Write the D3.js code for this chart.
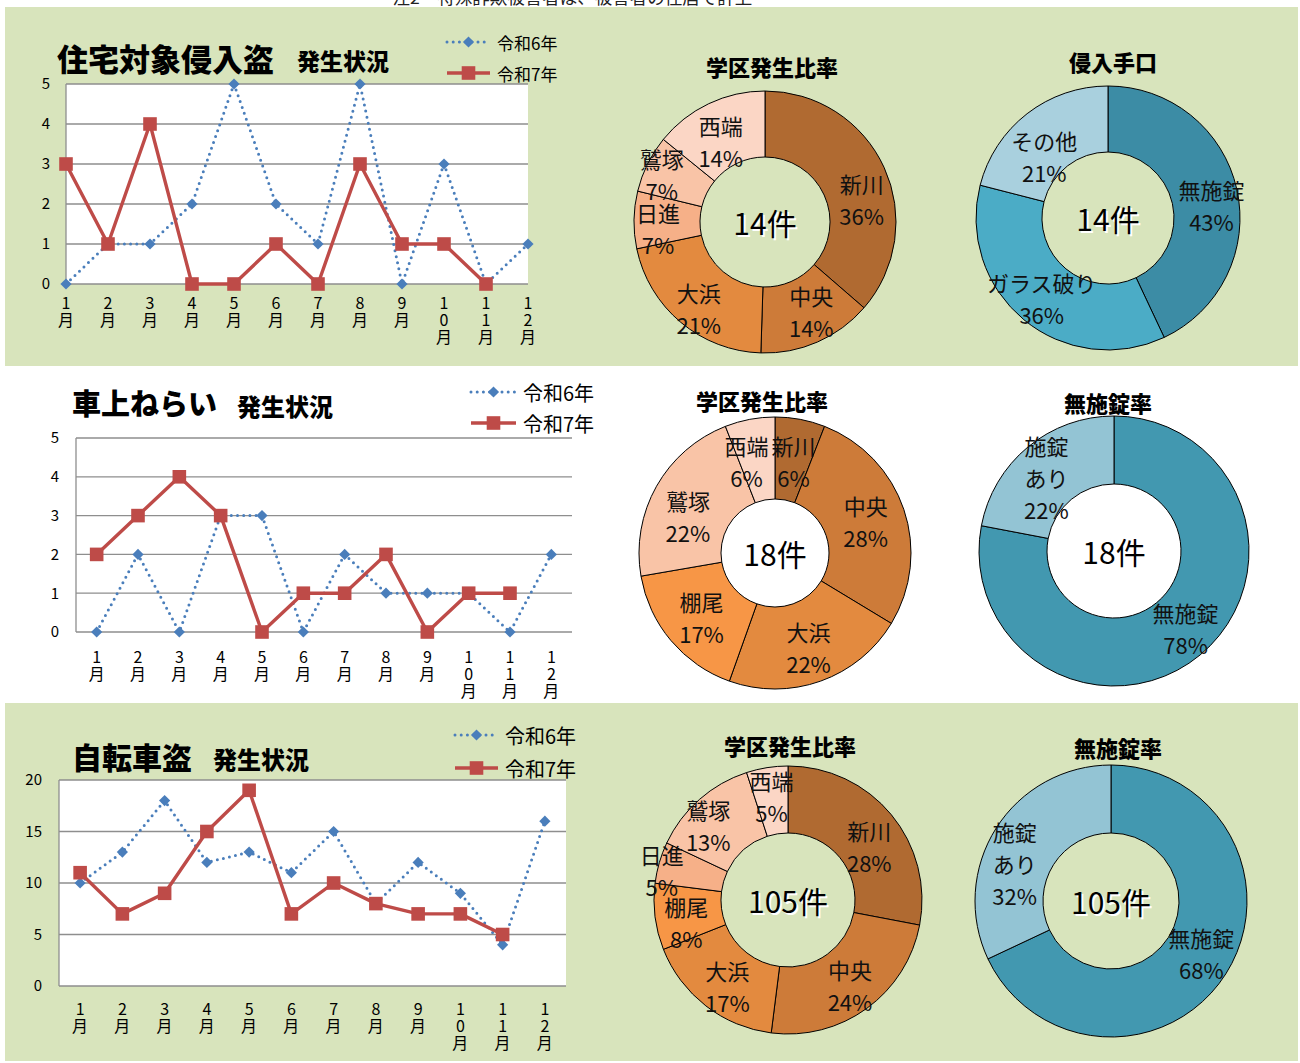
<!DOCTYPE html>
<html>
<head>
<meta charset="utf-8">
<script src="https://cdn.jsdelivr.net/npm/d3@7"></script>
<style>
    body { margin: 0; background: #ffffff; }
    text { font-family: "Noto Sans CJK JP", "Noto Sans", sans-serif; }
</style>
<script>
    // 月別件数
    var months = ["1月", "2月", "3月", "4月", "5月", "6月", "7月", "8月", "9月", "10月", "11月", "12月"];
    var seriesNames = ["令和6年", "令和7年"];

    var houseR6 = [0, 1, 1, 2, 5, 2, 1, 5, 0, 3, 0, 1];
    var houseR7 = [3, 1, 4, 0, 0, 1, 0, 3, 1, 1, 0];
    var carR6 = [0, 2, 0, 3, 3, 0, 2, 1, 1, 1, 0, 2];
    var carR7 = [2, 3, 4, 3, 0, 1, 1, 2, 0, 1, 1];
    var bikeR6 = [10, 13, 18, 12, 13, 11, 15, 8, 12, 9, 4, 16];
    var bikeR7 = [11, 7, 9, 15, 19, 7, 10, 8, 7, 7, 5];

    // 円グラフ (%)
    var houseAreaNames = ["新川", "中央", "大浜", "日進", "鷲塚", "西端"];
    var houseAreaPct = [36, 14, 21, 7, 7, 14];
    var houseWayNames = ["無施錠", "ガラス破り", "その他"];
    var houseWayPct = [43, 36, 21];
    var carAreaNames = ["新川", "中央", "大浜", "棚尾", "鷲塚", "西端"];
    var carAreaPct = [6, 28, 22, 17, 22, 6];
    var carLockNames = ["無施錠", "施錠\nあり"];
    var carLockPct = [78, 22];
    var bikeAreaNames = ["新川", "中央", "大浜", "棚尾", "日進", "鷲塚", "西端"];
    var bikeAreaPct = [28, 24, 17, 8, 5, 13, 5];
    var bikeLockNames = ["無施錠", "施錠\nあり"];
    var bikeLockPct = [68, 32];
    var totals = ["14件", "18件", "105件"];

    var noteText = "・注2　特殊詐欺被害者は、被害者の住居で計上";

    var areaColor = { "新川": "#b06a31", "中央": "#cd7b39", "大浜": "#e38a3f", "棚尾": "#f79646",
                      "日進": "#f6b088", "鷲塚": "#f9c4a7", "西端": "#fbd6c5" };

    const BLUE = "#4a7ebb", RED = "#be4b48", GRID = "#8e8e8e", GREEN = "#d8e4bc";

    function diamond(s) { return "M0," + (-s) + "L" + s + ",0L0," + s + "L" + (-s) + ",0Z"; }
    function square(s) { return "M" + (-s) + "," + (-s) + "h" + 2*s + "v" + 2*s + "h" + (-2*s) + "Z"; }

    function lineChart(svg, c) {
        var g = svg.append("g");
        var x, off;
        if (c.onTick) { x = d3.scalePoint().domain(months).range([c.left, c.right]); off = 0; }
        else { x = d3.scaleBand().domain(months).range([c.left, c.right]); off = x.bandwidth() / 2; }
        var y = d3.scaleLinear().domain([0, c.max]).range([c.bottom, c.top]);
        var ticks = d3.range(0, c.max + 1, c.step);

        g.append("rect")
         .attr("x", c.left).attr("y", c.top)
         .attr("width", c.right - c.left).attr("height", c.bottom - c.top)
         .attr("fill", "#ffffff");

        g.append("g").selectAll("line").data(ticks).enter()
         .append("line")
         .attr("x1", c.left).attr("x2", c.right)
         .attr("y1", d => y(d)).attr("y2", d => y(d))
         .attr("stroke", GRID).attr("stroke-width", 1.3);

        g.append("line")
         .attr("x1", c.left).attr("x2", c.left)
         .attr("y1", c.top).attr("y2", c.bottom)
         .attr("stroke", GRID).attr("stroke-width", 1.3);

        var ya = g.append("g")
         .attr("transform", "translate(" + c.left + ",0)")
         .call(d3.axisLeft(y).tickValues(ticks).tickFormat(d3.format("d")).tickSize(0).tickPadding(c.yPad));
        ya.select(".domain").remove();
        ya.selectAll("text").attr("font-size", 15).attr("fill", "#000")
          .style("font-family", "'Noto Sans CJK JP', sans-serif");

        // 縦書きの月ラベル
        g.append("g").selectAll("text").data(months).enter()
         .append("text")
         .attr("text-anchor", "middle")
         .attr("dominant-baseline", "central")
         .attr("font-size", 16)
         .each(function (d) {
             var t = d3.select(this);
             d.split("").forEach(function (ch, i) {
                 t.append("tspan").attr("x", x(d) + off).attr("y", c.labelY + i * 17).text(ch);
             });
         });

        var line = d3.line().x((d, i) => x(months[i]) + off).y(d => y(d));

        g.append("path")
         .attr("d", line(c.r6))
         .attr("fill", "none").attr("stroke", BLUE)
         .attr("stroke-width", 3).attr("stroke-dasharray", "0 6.2").attr("stroke-linecap", "round");
        g.append("g").selectAll("path").data(c.r6).enter()
         .append("path")
         .attr("d", diamond(5.6))
         .attr("transform", (d, i) => "translate(" + (x(months[i]) + off) + "," + y(d) + ")")
         .attr("fill", BLUE);

        g.append("path")
         .attr("d", line(c.r7))
         .attr("fill", "none").attr("stroke", RED).attr("stroke-width", 3.4)
         .attr("stroke-linejoin", "round");
        g.append("g").selectAll("path").data(c.r7).enter()
         .append("path")
         .attr("d", square(6.8))
         .attr("transform", (d, i) => "translate(" + (x(months[i]) + off) + "," + y(d) + ")")
         .attr("fill", RED);

        // タイトル
        g.append("text").attr("x", c.titleX).attr("y", c.titleY)
         .attr("dominant-baseline", "central")
         .attr("font-size", c.titleSize).attr("font-weight", 900).text(c.title);
        g.append("text").attr("x", c.subX).attr("y", c.subY)
         .attr("dominant-baseline", "central")
         .attr("font-size", c.subSize).attr("font-weight", 900).text("発生状況");

        // 凡例
        var lg = g.append("g");
        var mx = c.legX + c.legW / 2;
        lg.append("line")
          .attr("x1", c.legX).attr("x2", c.legX + c.legW)
          .attr("y1", c.legY[0]).attr("y2", c.legY[0])
          .attr("stroke", BLUE).attr("stroke-width", 3)
          .attr("stroke-dasharray", "0 6.2").attr("stroke-linecap", "round");
        lg.append("path").attr("d", diamond(5.6))
          .attr("transform", "translate(" + mx + "," + c.legY[0] + ")").attr("fill", BLUE);
        lg.append("line")
          .attr("x1", c.legX).attr("x2", c.legX + c.legW)
          .attr("y1", c.legY[1]).attr("y2", c.legY[1])
          .attr("stroke", RED).attr("stroke-width", 3.4);
        lg.append("path").attr("d", square(6.8))
          .attr("transform", "translate(" + mx + "," + c.legY[1] + ")").attr("fill", RED);
        lg.selectAll("text").data(seriesNames).enter()
          .append("text")
          .attr("x", c.legX + c.legW + 7).attr("y", (d, i) => c.legY[i])
          .attr("dominant-baseline", "central")
          .attr("font-size", c.legSize).text(d => d);
    }

    function donut(svg, c) {
        var data = c.names.map((n, i) => ({ name: n, v: c.values[i] }));
        var pie = d3.pie().sort(null).value(d => d.v);
        var arc = d3.arc().innerRadius(c.ri).outerRadius(c.r);
        var lr = (c.r + c.ri) / 2 + 5;

        var g = svg.append("g").attr("transform", "translate(" + c.cx + "," + c.cy + ")");

        if (c.hole) g.append("circle").attr("r", c.ri).attr("fill", c.hole);

        g.selectAll("path").data(pie(data)).enter()
         .append("path")
         .attr("d", arc)
         .attr("fill", (d, i) => c.colors ? c.colors[i] : areaColor[d.data.name])
         .attr("stroke", "#000").attr("stroke-width", 1);

        // ラベル (Excel風に少しずらす)
        g.append("g").selectAll("text").data(pie(data)).enter()
         .append("text")
         .attr("text-anchor", "middle")
         .attr("dominant-baseline", "central")
         .attr("font-size", 22).attr("fill", "#111")
         .each(function (d) {
             var push = (c.push && c.push[d.data.name]) || 0;
             var shift = (c.shift && c.shift[d.data.name]) || [0, 0];
             var p = d3.arc().innerRadius(lr + push).outerRadius(lr + push).centroid(d);
             var lines = d.data.name.split("\n").concat([d.data.v + "%"]);
             var t = d3.select(this);
             lines.forEach(function (s, i) {
                 t.append("tspan")
                  .attr("x", p[0] + shift[0])
                  .attr("y", p[1] + shift[1] + (i - (lines.length - 1) / 2) * 32)
                  .text(s);
             });
         });

        // 中央の件数 (白い影つき)
        [["#ffffff", 2], ["#000000", 0]].forEach(function (s) {
            g.append("text")
             .attr("x", s[1]).attr("y", s[1])
             .attr("text-anchor", "middle").attr("dominant-baseline", "central")
             .attr("font-size", 30).attr("fill", s[0]).text(c.total);
        });

        svg.append("text")
           .attr("x", c.titleX).attr("y", c.titleY)
           .attr("text-anchor", "middle").attr("dominant-baseline", "central")
           .attr("font-size", 22).attr("font-weight", 900).text(c.title);
    }

    function makeSVG() {
        var svg = d3.select("body").append("svg")
                    .attr("width", 1300)
                    .attr("height", 1063);

        svg.append("text").attr("x", 375).attr("y", 4)
           .attr("font-size", 17.5).attr("fill", "#222").text(noteText);

        svg.append("rect").attr("x", 5).attr("y", 7).attr("width", 1293).attr("height", 359).attr("fill", GREEN);
        svg.append("rect").attr("x", 5).attr("y", 703).attr("width", 1293).attr("height", 358).attr("fill", GREEN);

        lineChart(svg, { left: 66, right: 528, top: 84, bottom: 284, max: 5, step: 1, onTick: true,
                         r6: houseR6, r7: houseR7, labelY: 302, yPad: 16,
                         title: "住宅対象侵入盗", titleX: 57, titleY: 57, titleSize: 31,
                         subX: 297, subY: 60, subSize: 23,
                         legX: 447, legW: 43, legY: [42, 73], legSize: 17 });

        lineChart(svg, { left: 76, right: 572, top: 438, bottom: 632, max: 5, step: 1, onTick: false,
                         r6: carR6, r7: carR7, labelY: 656, yPad: 17,
                         title: "車上ねらい", titleX: 72, titleY: 402, titleSize: 29,
                         subX: 237, subY: 405, subSize: 24,
                         legX: 471, legW: 45, legY: [392, 423], legSize: 20 });

        lineChart(svg, { left: 59, right: 566, top: 780, bottom: 986, max: 20, step: 5, onTick: false,
                         r6: bikeR6, r7: bikeR7, labelY: 1008, yPad: 17,
                         title: "自転車盗", titleX: 72, titleY: 756, titleSize: 30,
                         subX: 213, subY: 758, subSize: 24,
                         legX: 455, legW: 43, legY: [735, 768], legSize: 20 });

        donut(svg, { cx: 765, cy: 222, r: 131, ri: 65, names: houseAreaNames, values: houseAreaPct,
                     shift: { "新川": [3, 20], "中央": [5, -5], "大浜": [0, 7], "日進": [-4, 8],
                              "鷲塚": [-11, -2], "西端": [0, 12] },
                     total: totals[0], title: "学区発生比率", titleX: 772, titleY: 66 });
        donut(svg, { cx: 1108, cy: 218, r: 132, ri: 66, names: houseWayNames, values: houseWayPct,
                     colors: ["#3c8ca5", "#4bacc6", "#a9d0de"],
                     shift: { "無施錠": [2, 10], "その他": [0, 20] },
                     total: totals[0], title: "侵入手口", titleX: 1113, titleY: 61 });

        donut(svg, { cx: 775, cy: 553, r: 136, ri: 54, names: carAreaNames, values: carAreaPct,
                     hole: "#ffffff",
                     shift: { "西端": [-10, 6], "新川": [0, 6], "鷲塚": [0, 12], "棚尾": [3, 0], "中央": [-4, 0] },
                     total: totals[1], title: "学区発生比率", titleX: 762, titleY: 400 });
        donut(svg, { cx: 1114, cy: 551, r: 135, ri: 67, names: carLockNames, values: carLockPct,
                     colors: ["#4298b0", "#93c4d4"], hole: "#ffffff",
                     shift: { "無施錠": [4, -5], "施錠\nあり": [0, 8] },
                     total: totals[1], title: "無施錠率", titleX: 1108, titleY: 402 });

        donut(svg, { cx: 788, cy: 900, r: 134, ri: 67, names: bikeAreaNames, values: bikeAreaPct,
                     push: { "日進": 26 },
                     shift: { "新川": [0, 13], "棚尾": [3, 9], "日進": [0, 7], "鷲塚": [-10, 4], "大浜": [4, 3] },
                     total: totals[2], title: "学区発生比率", titleX: 790, titleY: 745 });
        donut(svg, { cx: 1111, cy: 901, r: 136, ri: 68, names: bikeLockNames, values: bikeLockPct,
                     colors: ["#4298b0", "#93c4d4"],
                     shift: { "無施錠": [0, -5], "施錠\nあり": [-6, 19] },
                     total: totals[2], title: "無施錠率", titleX: 1118, titleY: 747 });
    }
</script>
</head>
<body onload="makeSVG()">
</body>
</html>
